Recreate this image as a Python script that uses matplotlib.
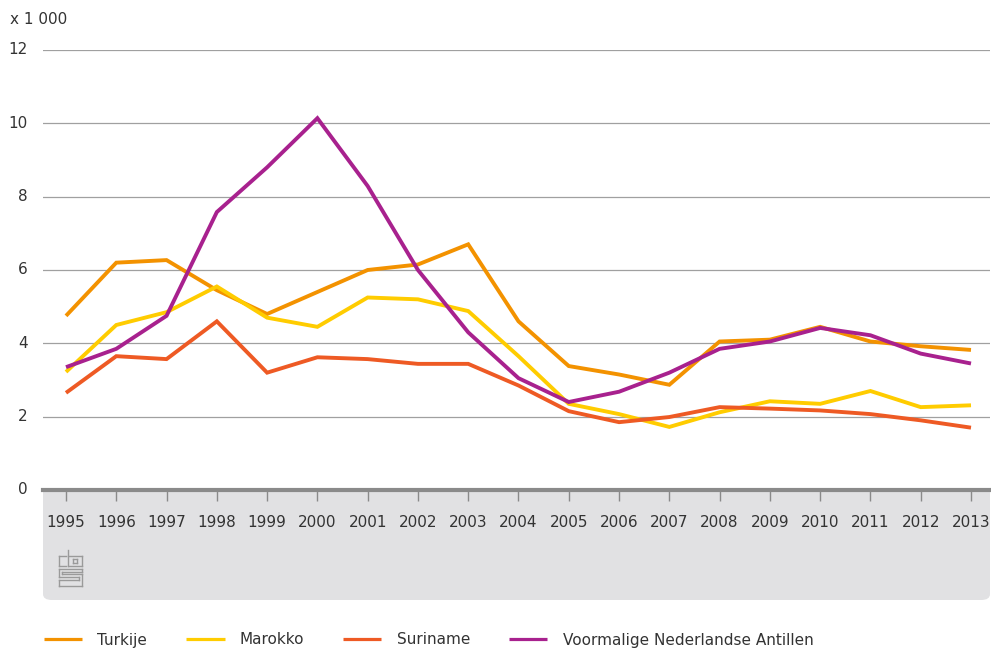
import numpy as np
import matplotlib
matplotlib.use('Agg')
import matplotlib.pyplot as plt
from matplotlib.patches import FancyBboxPatch, Rectangle
from matplotlib.lines import Line2D

# data (x 1000)
years = list(range(1995, 2014))
turkije = [4.75, 6.2, 6.27, 5.45, 4.8, 5.4, 6.0, 6.15, 6.7, 4.6, 3.38, 3.15, 2.87,
           4.05, 4.1, 4.45, 4.05, 3.92, 3.82]
marokko = [3.22, 4.5, 4.85, 5.55, 4.7, 4.45, 5.25, 5.2, 4.88, 3.65, 2.35, 2.07, 1.72,
           2.12, 2.42, 2.35, 2.7, 2.26, 2.31]
suriname = [2.65, 3.65, 3.57, 4.6, 3.2, 3.62, 3.57, 3.44, 3.44, 2.85, 2.15, 1.85, 1.99,
            2.26, 2.22, 2.17, 2.07, 1.9, 1.7]
antillen = [3.35, 3.85, 4.75, 7.58, 8.8, 10.14, 8.29, 6.0, 4.3, 3.05, 2.4, 2.68, 3.2,
            3.85, 4.05, 4.42, 4.22, 3.72, 3.45]

series = [
    ("Turkije", turkije, "#F39200"),
    ("Marokko", marokko, "#FFCC00"),
    ("Suriname", suriname, "#EE5A24"),
    ("Voormalige Nederlandse Antillen", antillen, "#A8218E"),
]

W, H = 991, 651
fig = plt.figure(figsize=(W / 100, H / 100), dpi=100)
txt = "#333333"

def fx(px):
    return px / W

def fy(py):
    return 1 - py / H

# grey panel under the x axis
panel = FancyBboxPatch((fx(43), fy(600)), fx(990) - fx(43), fy(490) - fy(600),
                       boxstyle="round,pad=0,rounding_size=0.009",
                       transform=fig.transFigure, facecolor="#E1E1E3",
                       edgecolor="none", zorder=-2)
fig.patches.append(panel)
fig.patches.append(Rectangle((fx(43), fy(520)), fx(990) - fx(43), fy(490) - fy(520),
                             transform=fig.transFigure, facecolor="#E1E1E3",
                             edgecolor="none", zorder=-2))

ax = fig.add_axes([fx(43), fy(490), fx(990) - fx(43), fy(50) - fy(490)])
ax.set_facecolor("none")

for name, vals, col in series:
    ax.plot(years, vals, color=col, linewidth=2.8, label=name, solid_capstyle="butt",
            solid_joinstyle="miter", zorder=3)

ax.set_ylim(0, 12)
ax.set_xlim(1995 - 23 / 50.28, 2013 + 19 / 50.28)
ax.set_yticks([0, 2, 4, 6, 8, 10, 12])
ax.set_xticks(years)
ax.grid(axis="y", color="#A0A0A0", linewidth=0.9)
for s in ["top", "right", "left"]:
    ax.spines[s].set_visible(False)
ax.spines["bottom"].set_color("#8A8A8A")
ax.spines["bottom"].set_linewidth(3)
ax.spines["bottom"].set_zorder(4)
ax.tick_params(axis="y", length=0, pad=11, labelsize=11, labelcolor=txt)
ax.tick_params(axis="x", length=8, width=1, color="#8A8A8A", pad=10,
               labelsize=11, labelcolor=txt)
for lab in ax.get_yticklabels():
    lab.set_verticalalignment("center")

fig.text(fx(10), fy(20), "x 1 000", fontsize=11, color=txt, va="center", ha="left")

# cbs logo (rough)
lg = "#9A9A9A"
def seg(x0, y0, x1, y1):
    fig.add_artist(Line2D([fx(x0), fx(x1)], [fy(y0), fy(y1)], color=lg, linewidth=1.0,
                          transform=fig.transFigure))
for (x0, y0, x1, y1) in [(59, 556, 66, 556), (59, 556, 59, 566), (59, 566, 66, 566),
                         (68, 550, 68, 566), (68, 566, 82, 566), (82, 566, 82, 556),
                         (82, 556, 68, 556), (73, 559, 77, 559), (73, 563, 77, 563),
                         (73, 559, 73, 563), (77, 559, 77, 563),
                         (59, 569, 82, 569), (59, 569, 59, 577), (59, 577, 79, 577),
                         (79, 577, 79, 580), (79, 580, 59, 580), (59, 580, 59, 586),
                         (59, 586, 82, 586), (82, 586, 82, 574), (82, 574, 62, 574),
                         (62, 574, 62, 572), (62, 572, 82, 572), (82, 572, 82, 569)]:
    seg(x0, y0, x1, y1)

leg = fig.legend(loc="center left", bbox_to_anchor=(fx(44), fy(640)), ncol=4,
                 frameon=False, fontsize=11, handlelength=2.5, handletextpad=1.0,
                 columnspacing=2.55, labelcolor=txt, borderaxespad=0, borderpad=0)
for h in leg.get_lines():
    h.set_linewidth(2.3)

fig.savefig("out.png", dpi=100)
